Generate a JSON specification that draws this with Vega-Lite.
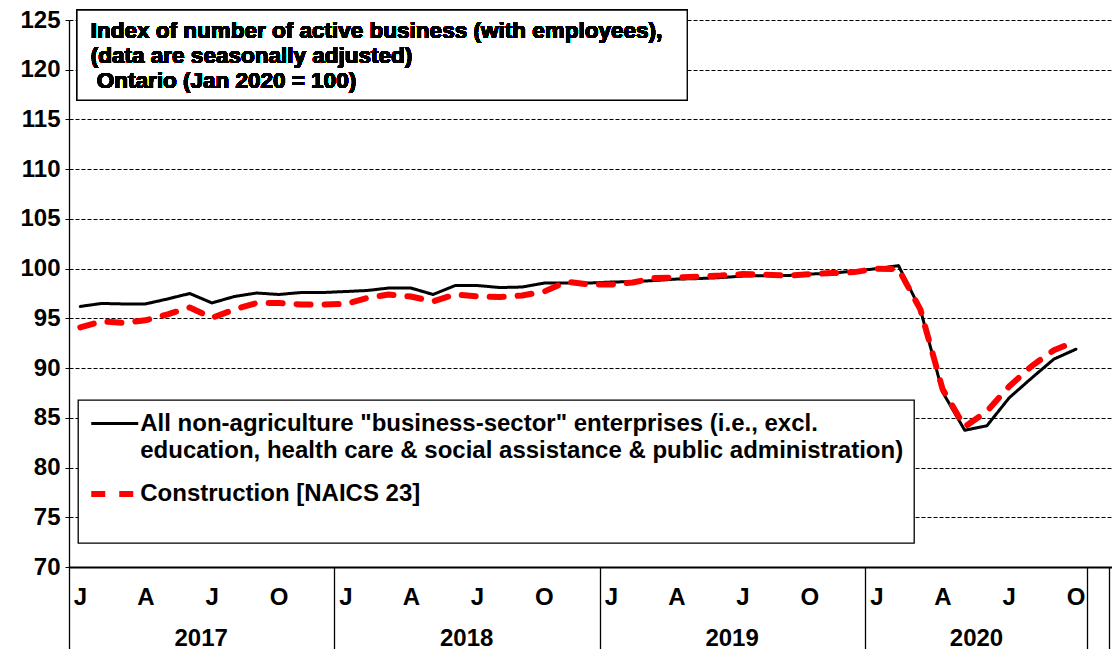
{
  "$schema": "https://vega.github.io/schema/vega-lite/v6.json",
  "width": 1043,
  "height": 547,
  "autosize": "none",
  "padding": {"left": 69, "top": 20, "right": 0, "bottom": 82},
  "background": "white",
  "config": {
    "view": {"stroke": null},
    "font": "Liberation Sans",
    "axis": {"labelFont": "Liberation Sans", "labelFontSize": 24, "labelFontWeight": "bold", "labelColor": "black", "title": null},
    "style": {"guide-label": {"lineHeight": 27}},
    "legend": {
      "title": null, "orient": "none", "legendX": 9, "legendY": 380,
      "strokeColor": "black", "strokeWidth": 1.3, "fillColor": "white", "padding": 10,
      "labelFont": "Liberation Sans", "labelFontSize": 24, "labelFontWeight": "bold", "labelColor": "black",
      "labelLimit": 0, "labelOffset": 10.5, "rowPadding": 16,
      "symbolType": "M-2,0H2", "symbolSize": 552.25, "symbolOffset": 11.75
    }
  },
  "data": {"values": [
    {"month": "2017-01", "series": "All", "value": 96.2},
    {"month": "2017-02", "series": "All", "value": 96.5},
    {"month": "2017-03", "series": "All", "value": 96.45},
    {"month": "2017-04", "series": "All", "value": 96.45},
    {"month": "2017-05", "series": "All", "value": 96.95},
    {"month": "2017-06", "series": "All", "value": 97.5},
    {"month": "2017-07", "series": "All", "value": 96.55},
    {"month": "2017-08", "series": "All", "value": 97.2},
    {"month": "2017-09", "series": "All", "value": 97.55},
    {"month": "2017-10", "series": "All", "value": 97.4},
    {"month": "2017-11", "series": "All", "value": 97.6},
    {"month": "2017-12", "series": "All", "value": 97.6},
    {"month": "2018-01", "series": "All", "value": 97.7},
    {"month": "2018-02", "series": "All", "value": 97.8},
    {"month": "2018-03", "series": "All", "value": 98.05},
    {"month": "2018-04", "series": "All", "value": 98.05},
    {"month": "2018-05", "series": "All", "value": 97.4},
    {"month": "2018-06", "series": "All", "value": 98.3},
    {"month": "2018-07", "series": "All", "value": 98.3},
    {"month": "2018-08", "series": "All", "value": 98.1},
    {"month": "2018-09", "series": "All", "value": 98.15},
    {"month": "2018-10", "series": "All", "value": 98.55},
    {"month": "2018-11", "series": "All", "value": 98.55},
    {"month": "2018-12", "series": "All", "value": 98.55},
    {"month": "2019-01", "series": "All", "value": 98.65},
    {"month": "2019-02", "series": "All", "value": 98.7},
    {"month": "2019-03", "series": "All", "value": 98.8},
    {"month": "2019-04", "series": "All", "value": 98.95},
    {"month": "2019-05", "series": "All", "value": 99.0},
    {"month": "2019-06", "series": "All", "value": 99.1},
    {"month": "2019-07", "series": "All", "value": 99.25},
    {"month": "2019-08", "series": "All", "value": 99.3},
    {"month": "2019-09", "series": "All", "value": 99.3},
    {"month": "2019-10", "series": "All", "value": 99.45},
    {"month": "2019-11", "series": "All", "value": 99.55},
    {"month": "2019-12", "series": "All", "value": 99.75},
    {"month": "2020-01", "series": "All", "value": 100},
    {"month": "2020-02", "series": "All", "value": 100.3},
    {"month": "2020-03", "series": "All", "value": 95.9},
    {"month": "2020-04", "series": "All", "value": 87.6},
    {"month": "2020-05", "series": "All", "value": 83.75},
    {"month": "2020-06", "series": "All", "value": 84.2},
    {"month": "2020-07", "series": "All", "value": 87.0},
    {"month": "2020-08", "series": "All", "value": 89.0},
    {"month": "2020-09", "series": "All", "value": 90.9},
    {"month": "2020-10", "series": "All", "value": 91.9},
    {"month": "2017-01", "series": "Construction", "value": 94.1},
    {"month": "2017-02", "series": "Construction", "value": 94.7},
    {"month": "2017-03", "series": "Construction", "value": 94.55},
    {"month": "2017-04", "series": "Construction", "value": 94.8},
    {"month": "2017-05", "series": "Construction", "value": 95.4},
    {"month": "2017-06", "series": "Construction", "value": 96.1},
    {"month": "2017-07", "series": "Construction", "value": 95.05},
    {"month": "2017-08", "series": "Construction", "value": 95.9},
    {"month": "2017-09", "series": "Construction", "value": 96.55},
    {"month": "2017-10", "series": "Construction", "value": 96.55},
    {"month": "2017-11", "series": "Construction", "value": 96.4},
    {"month": "2017-12", "series": "Construction", "value": 96.4},
    {"month": "2018-01", "series": "Construction", "value": 96.45},
    {"month": "2018-02", "series": "Construction", "value": 97.05},
    {"month": "2018-03", "series": "Construction", "value": 97.4},
    {"month": "2018-04", "series": "Construction", "value": 97.2},
    {"month": "2018-05", "series": "Construction", "value": 96.7},
    {"month": "2018-06", "series": "Construction", "value": 97.4},
    {"month": "2018-07", "series": "Construction", "value": 97.2},
    {"month": "2018-08", "series": "Construction", "value": 97.15},
    {"month": "2018-09", "series": "Construction", "value": 97.3},
    {"month": "2018-10", "series": "Construction", "value": 97.7},
    {"month": "2018-11", "series": "Construction", "value": 98.7},
    {"month": "2018-12", "series": "Construction", "value": 98.4},
    {"month": "2019-01", "series": "Construction", "value": 98.4},
    {"month": "2019-02", "series": "Construction", "value": 98.6},
    {"month": "2019-03", "series": "Construction", "value": 99.05},
    {"month": "2019-04", "series": "Construction", "value": 99.1},
    {"month": "2019-05", "series": "Construction", "value": 99.2},
    {"month": "2019-06", "series": "Construction", "value": 99.3},
    {"month": "2019-07", "series": "Construction", "value": 99.45},
    {"month": "2019-08", "series": "Construction", "value": 99.4},
    {"month": "2019-09", "series": "Construction", "value": 99.3},
    {"month": "2019-10", "series": "Construction", "value": 99.45},
    {"month": "2019-11", "series": "Construction", "value": 99.55},
    {"month": "2019-12", "series": "Construction", "value": 99.65},
    {"month": "2020-01", "series": "Construction", "value": 100},
    {"month": "2020-02", "series": "Construction", "value": 99.95},
    {"month": "2020-03", "series": "Construction", "value": 95.9},
    {"month": "2020-04", "series": "Construction", "value": 87.9},
    {"month": "2020-05", "series": "Construction", "value": 84.1},
    {"month": "2020-06", "series": "Construction", "value": 85.65},
    {"month": "2020-07", "series": "Construction", "value": 88.15},
    {"month": "2020-08", "series": "Construction", "value": 90.2},
    {"month": "2020-09", "series": "Construction", "value": 91.8},
    {"month": "2020-10", "series": "Construction", "value": 92.7}
  ]},
  "resolve": {"axis": {"x": "independent", "y": "independent"}},
  "layer": [
    {
      "mark": {"type": "line", "strokeCap": "round", "strokeJoin": "round"},
      "encoding": {
        "x": {
          "field": "month", "timeUnit": "utcyearmonth", "type": "temporal", "bandPosition": 0.5,
          "scale": {"type": "utc", "domain": [{"year": 2017, "month": 1, "date": 1, "utc": true}, {"year": 2020, "month": 12, "date": 5, "utc": true}]},
          "axis": {
            "orient": "bottom",
            "values": [
              {"year": 2017, "month": 1, "date": 16, "utc": true}, {"year": 2017, "month": 4, "date": 16, "utc": true}, {"year": 2017, "month": 7, "date": 16, "utc": true}, {"year": 2017, "month": 10, "date": 16, "utc": true},
              {"year": 2018, "month": 1, "date": 16, "utc": true}, {"year": 2018, "month": 4, "date": 16, "utc": true}, {"year": 2018, "month": 7, "date": 16, "utc": true}, {"year": 2018, "month": 10, "date": 16, "utc": true},
              {"year": 2019, "month": 1, "date": 16, "utc": true}, {"year": 2019, "month": 4, "date": 16, "utc": true}, {"year": 2019, "month": 7, "date": 16, "utc": true}, {"year": 2019, "month": 10, "date": 16, "utc": true},
              {"year": 2020, "month": 1, "date": 16, "utc": true}, {"year": 2020, "month": 4, "date": 16, "utc": true}, {"year": 2020, "month": 7, "date": 16, "utc": true}, {"year": 2020, "month": 10, "date": 16, "utc": true}
            ],
            "labelExpr": "substring(utcFormat(datum.value, '%b'), 0, 1)",
            "ticks": false, "tickSize": 0, "grid": false,
            "domain": true, "domainColor": "black", "domainWidth": 2,
            "labelPadding": 18, "labelAlign": "center", "labelBaseline": "top", "labelOverlap": false
          }
        },
        "y": {
          "field": "value", "type": "quantitative",
          "scale": {"domain": [70, 125], "nice": false, "zero": false},
          "axis": {
            "values": [70, 75, 80, 85, 90, 95, 100, 105, 110, 115, 120, 125],
            "grid": true, "gridColor": "black", "gridDash": [4, 2], "gridWidth": 1, "gridOpacity": 1,
            "domain": true, "domainColor": "black", "domainWidth": 1.3,
            "ticks": true, "tickSize": 4, "tickColor": "black", "tickWidth": 1,
            "labelPadding": 5, "labelOverlap": false
          }
        },
        "color": {
          "field": "series", "type": "nominal",
          "scale": {"domain": ["All", "Construction"], "range": ["black", "#ff0000"]},
          "legend": {
            "labelExpr": "datum.label == 'All' ? ['All non-agriculture \"business-sector\" enterprises (i.e., excl.', 'education, health care & social assistance & public administration)'] : ['Construction [NAICS 23]', '']"
          }
        },
        "strokeDash": {
          "field": "series", "type": "nominal",
          "scale": {"domain": ["All", "Construction"], "range": [[1, 0], [14, 14]]},
          "legend": {
            "labelExpr": "datum.label == 'All' ? ['All non-agriculture \"business-sector\" enterprises (i.e., excl.', 'education, health care & social assistance & public administration)'] : ['Construction [NAICS 23]', '']"
          }
        },
        "strokeWidth": {
          "field": "series", "type": "nominal",
          "scale": {"domain": ["All", "Construction"], "range": [3, 6]},
          "legend": {
            "labelExpr": "datum.label == 'All' ? ['All non-agriculture \"business-sector\" enterprises (i.e., excl.', 'education, health care & social assistance & public administration)'] : ['Construction [NAICS 23]', '']"
          }
        }
      }
    },
    {
      "mark": {"type": "rect", "fill": "white", "stroke": "black", "strokeWidth": 1.3},
      "encoding": {
        "x": {
          "datum": {"year": 2017, "month": 1, "date": 12, "utc": true}, "type": "temporal",
          "axis": {
            "orient": "bottom",
            "values": [{"year": 2017, "month": 7, "date": 1, "utc": true}, {"year": 2018, "month": 7, "date": 1, "utc": true}, {"year": 2019, "month": 7, "date": 1, "utc": true}, {"year": 2020, "month": 6, "date": 1, "utc": true}],
            "labelExpr": "utcFormat(datum.value, '%Y')",
            "ticks": false, "tickSize": 0, "grid": false, "domain": false,
            "labelPadding": 59, "labelAlign": "center", "labelBaseline": "top", "labelOverlap": false
          }
        },
        "x2": {"datum": {"year": 2019, "month": 5, "date": 1, "utc": true}},
        "y": {"datum": 126, "type": "quantitative", "axis": null},
        "y2": {"datum": 116.95}
      }
    },
    {
      "mark": {
        "type": "text", "align": "left", "baseline": "top", "lineHeight": 25,
        "font": "Liberation Sans", "fontSize": 22.5, "fontWeight": "bold", "fill": "black",
        "text": ["Index of number of active business (with employees),", "(data are seasonally adjusted)"]
      },
      "encoding": {
        "x": {
          "datum": {"year": 2017, "month": 1, "date": 31, "utc": true}, "type": "temporal",
          "axis": {
            "orient": "bottom",
            "values": [{"year": 2017, "month": 1, "date": 1, "utc": true}, {"year": 2018, "month": 1, "date": 1, "utc": true}, {"year": 2019, "month": 1, "date": 1, "utc": true}, {"year": 2020, "month": 1, "date": 1, "utc": true}, {"year": 2020, "month": 11, "date": 1, "utc": true}, {"year": 2020, "month": 12, "date": 1, "utc": true}],
            "labels": false, "ticks": true, "tickSize": 82, "tickColor": "black", "tickWidth": 1.3,
            "grid": false, "domain": false
          }
        },
        "y": {"datum": 125, "type": "quantitative", "axis": null}
      }
    },
    {
      "mark": {
        "type": "text", "align": "left", "baseline": "top",
        "font": "Liberation Sans", "fontSize": 22.5, "fontWeight": "bold", "fill": "black",
        "text": "Ontario (Jan 2020 = 100)"
      },
      "encoding": {
        "x": {"datum": {"year": 2017, "month": 2, "date": 8, "utc": true}, "type": "temporal", "axis": null},
        "y": {"datum": 120, "type": "quantitative", "axis": null}
      }
    }
  ]
}
